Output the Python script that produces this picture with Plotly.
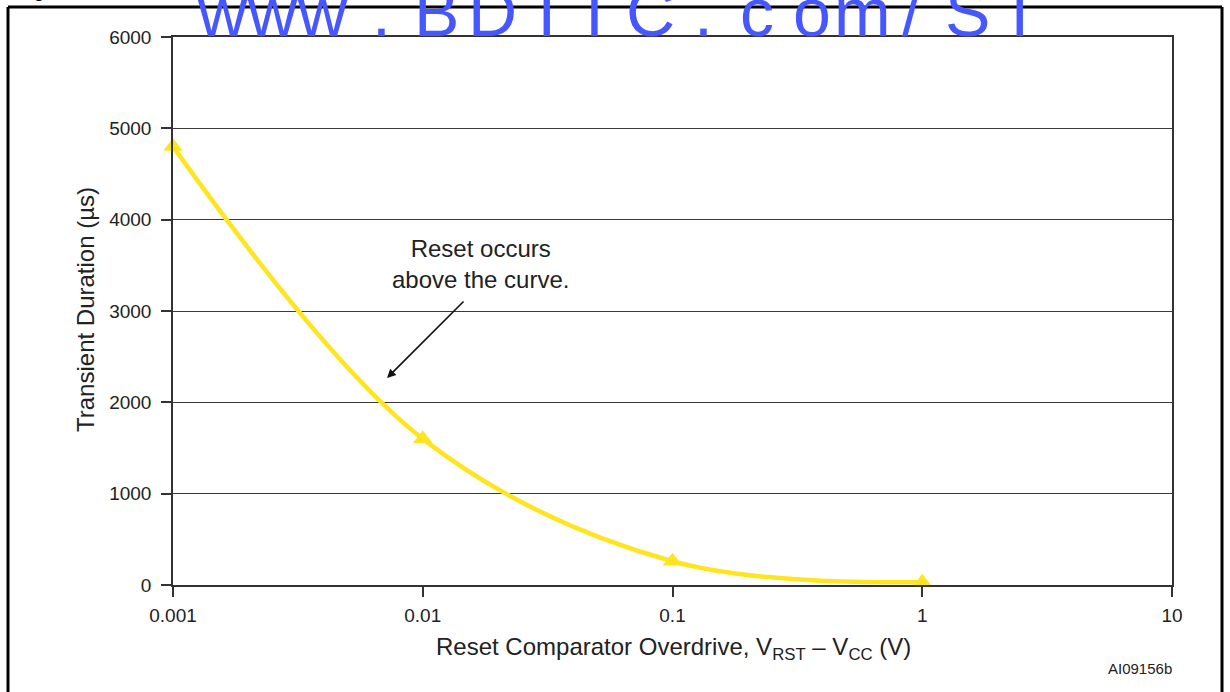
import plotly.graph_objects as go

# ---- data ----
overdrive_v = [0.001, 0.01, 0.1, 1]
transient_us = [4800, 1600, 260, 30]
x_tick_vals = [0.001, 0.01, 0.1, 1, 10]
x_tick_text = ["0.001", "0.01", "0.1", "1", "10"]
y_tick_vals = [0, 1000, 2000, 3000, 4000, 5000, 6000]

W, H = 1230, 692
L, R, T, B = 173, 58, 37, 107
PW, PH = W - L - R, H - T - B

def px(xp):
    return (xp - L) / PW

def py(yp):
    return (H - B - yp) / PH

FONT = "Arial, 'Liberation Sans', sans-serif"
YEL = "#FFE51F"

fig = go.Figure()
fig.add_trace(go.Scatter(
    x=overdrive_v, y=transient_us, mode="lines+markers",
    line=dict(color=YEL, width=4.5, shape="spline", smoothing=1.0),
    marker=dict(symbol="triangle-up", size=17, color=YEL),
    cliponaxis=False, showlegend=False, hoverinfo="x+y"))

axis_common = dict(showline=True, linecolor="#333", linewidth=1.5, mirror=True,
                   ticks="outside", ticklen=10, tickwidth=1.5, tickcolor="#333",
                   tickfont=dict(family=FONT, size=19, color="#222"), zeroline=False)

fig.update_xaxes(type="log", range=[-3, 1], tickvals=x_tick_vals, ticktext=x_tick_text,
                 showgrid=False, ticklabelstandoff=2, **axis_common)
fig.update_yaxes(range=[0, 6000], tickvals=y_tick_vals, showgrid=True,
                 gridcolor="#3a3a3a", gridwidth=1.3, ticklabelstandoff=6, **axis_common)

ann = []
# axis titles
ann.append(dict(xref="paper", yref="paper", x=px(673), y=py(648), xanchor="center", yanchor="middle",
                text="Reset Comparator Overdrive, V<sub>RST</sub> – V<sub>CC</sub> (V)",
                showarrow=False, font=dict(family=FONT, size=24, color="#222")))
ann.append(dict(xref="paper", yref="paper", x=px(85), y=py(310), xanchor="center", yanchor="middle",
                text="Transient Duration (µs)", textangle=-90,
                showarrow=False, font=dict(family=FONT, size=24, color="#222")))
# note
ann.append(dict(xref="x", yref="y", x=-1.767, y=3515, xanchor="center", yanchor="middle",
                text="Reset occurs<br>above the curve.", showarrow=False,
                font=dict(family=FONT, size=24, color="#222")))
ann.append(dict(xref="x", yref="y", x=-2.143, y=2266, text="", showarrow=True,
                arrowhead=2, arrowsize=1.1, arrowwidth=1.6, arrowcolor="#111",
                ax=78, ay=-78, standoff=0))
# figure code
ann.append(dict(xref="paper", yref="paper", x=px(1140), y=py(668), xanchor="center", yanchor="middle",
                text="AI09156b", showarrow=False, font=dict(family=FONT, size=15, color="#222")))
# cut-off figure title
ann.append(dict(xref="paper", yref="paper", x=px(18), y=py(0), xanchor="left", yanchor="bottom",
                yshift=-3, text="<b>Figure</b>", showarrow=False,
                font=dict(family=FONT, size=16, color="#000")))

# watermark characters
wm_chars = list("www.BDTIC.com/ST")
wm_x = [222, 272, 322, 381, 436, 492, 547, 594, 650, 703, 757, 812, 862, 911, 967, 1020]
for ch, xc in zip(wm_chars, wm_x):
    ann.append(dict(xref="paper", yref="paper", x=px(xc), y=py(37), xanchor="center", yanchor="bottom",
                    yshift=-15, text=ch, showarrow=False,
                    font=dict(family=FONT, size=68, color="#4757FF")))

fig.update_layout(annotations=ann)

# outer frame
frame = dict(type="line", xref="paper", yref="paper", line=dict(color="#000", width=3))
fig.add_shape(**frame, x0=px(8), x1=px(8), y0=py(7), y1=py(700))
fig.add_shape(**frame, x0=px(8), x1=px(1222), y0=py(7), y1=py(7))
fig.add_shape(**frame, x0=px(1222), x1=px(1222), y0=py(7), y1=py(700))

fig.update_layout(width=W, height=H, margin=dict(l=L, r=R, t=T, b=B, autoexpand=False),
                  paper_bgcolor="white", plot_bgcolor="white",
                  font=dict(family=FONT, color="#222"))
fig.write_html("out.html", config={"displayModeBar": False},
               post_script="document.body.style.margin='0';document.body.style.overflow='hidden';")
